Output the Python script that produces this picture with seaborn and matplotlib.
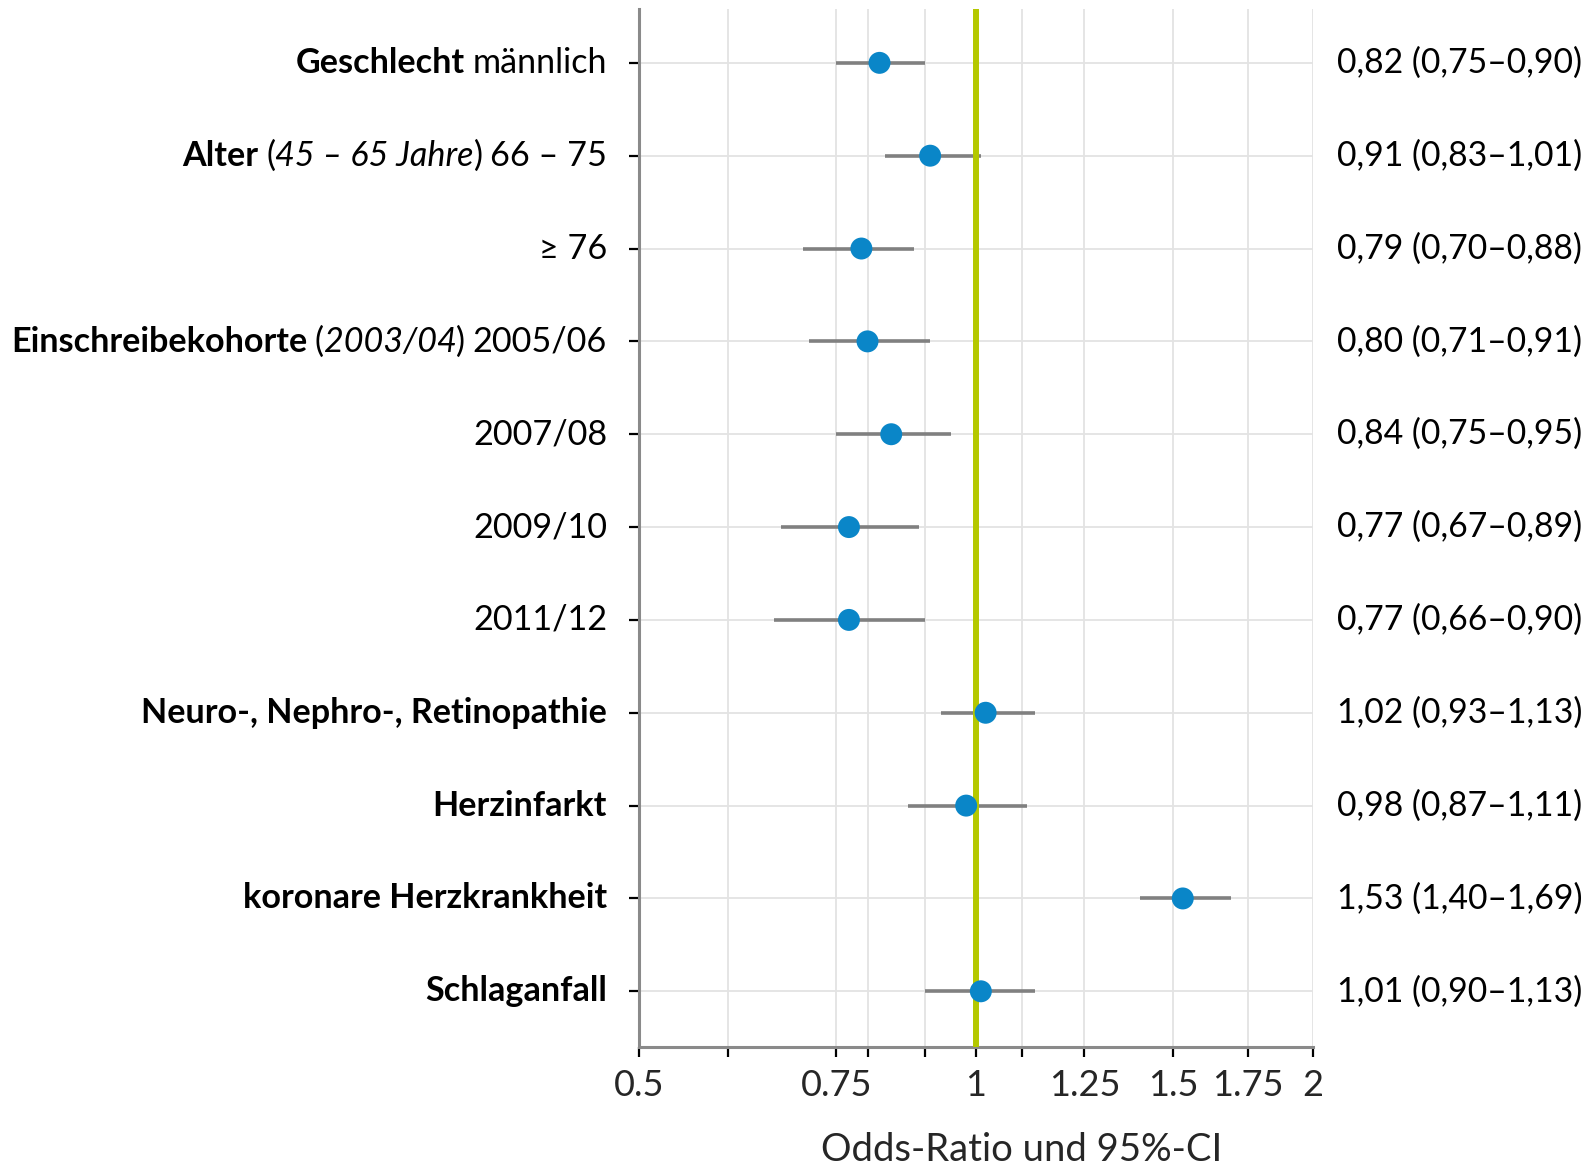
import numpy as np
import pandas as pd
import matplotlib
matplotlib.use("Agg")
import matplotlib.pyplot as plt
import seaborn as sns
from matplotlib.offsetbox import TextArea, HPacker, AnnotationBbox, DrawingArea
from matplotlib.ticker import FixedLocator, FixedFormatter, NullFormatter

# ---------------- data ----------------
# each row label: list of (text, style) pieces; style: b=bold, i=italic, n=normal, " "=space
row_labels = [
    [("Geschlecht", "b"), (" ", " "), ("männlich", "n")],
    [("Alter", "b"), (" ", " "), ("(", "n"), ("45 – 65 Jahre", "i"), (")", "n"), (" ", " "), ("66 – 75", "n")],
    [("≥ 76", "n")],
    [("Einschreibekohorte", "b"), (" ", " "), ("(", "n"), ("2003/04", "i"), (")", "n"), (" ", " "), ("2005/06", "n")],
    [("2007/08", "n")],
    [("2009/10", "n")],
    [("2011/12", "n")],
    [("Neuro-, Nephro-, Retinopathie", "b")],
    [("Herzinfarkt", "b")],
    [("koronare Herzkrankheit", "b")],
    [("Schlaganfall", "b")],
]
odds = [0.82, 0.91, 0.79, 0.80, 0.84, 0.77, 0.77, 1.02, 0.98, 1.53, 1.01]
ci_low = [0.75, 0.83, 0.70, 0.71, 0.75, 0.67, 0.66, 0.93, 0.87, 1.40, 0.90]
ci_high = [0.90, 1.01, 0.88, 0.91, 0.95, 0.89, 0.90, 1.13, 1.11, 1.69, 1.13]

x_major_ticks = [0.5, 0.75, 1, 1.25, 1.5, 1.75, 2]
x_major_labels = ["0.5", "0.75", "1", "1.25", "1.5", "1.75", "2"]
x_minor_ticks = [0.6, 0.8, 0.9, 1.1]
x_label = "Odds-Ratio und 95%-CI"
reference_value = 1

# ---------------- style ----------------
sns.set_theme(style="white")
plt.rcParams["font.family"] = ["Lato", "DejaVu Sans"]
FS_TICK = 26
FS_LEFT = 24.6
FS_RIGHT = 24.3
FS_XLABEL = 27.5
GRID = "#e3e3e3"
SPINE = "#8a8a8a"
DOT = "#0a86c8"
BAR = "#808080"
GREEN = "#b4c800"

df = pd.DataFrame({
    "row": np.arange(len(odds)),
    "odds": odds,
    "lo": ci_low,
    "hi": ci_high,
})

W, H = 1593, 1167
fig = plt.figure(figsize=(W / 100, H / 100), dpi=100)
ax = fig.add_axes([639 / W, 1 - 1047 / H, 674 / W, (1047 - 9) / H])

ax.set_xscale("log")
ax.set_xlim(0.5, 2)
ax.set_ylim(len(odds) - 1 + 0.6, -0.58)

ax.xaxis.set_major_locator(FixedLocator(x_major_ticks))
ax.xaxis.set_major_formatter(FixedFormatter(x_major_labels))
ax.xaxis.set_minor_locator(FixedLocator(x_minor_ticks))
ax.xaxis.set_minor_formatter(NullFormatter())
ax.set_yticks(df["row"])
ax.set_yticklabels([])

ax.grid(True, which="both", axis="x", color=GRID, lw=1.3)
ax.grid(True, which="major", axis="y", color=GRID, lw=1.3)
ax.set_axisbelow(True)

for s in ["top", "right"]:
    ax.spines[s].set_visible(False)
for s in ["left", "bottom"]:
    ax.spines[s].set_color(SPINE)
    ax.spines[s].set_linewidth(2.2)

ax.tick_params(axis="both", which="both", bottom=True, left=True, direction="out",
               length=7.5, width=1.6, color="black", labelsize=FS_TICK, pad=8)
ax.tick_params(axis="y", which="both", pad=0)

# CI bars, reference line, points
ax.hlines(df["row"], df["lo"], df["hi"], color=BAR, lw=2.6, zorder=3)
ax.axvline(reference_value, color=GREEN, lw=4.3, zorder=4)
sns.scatterplot(data=df, x="odds", y="row", s=250, color=DOT, edgecolor="none",
                zorder=5, ax=ax, legend=False)
ax.set_ylabel("")
ax.set_xlabel(x_label, fontsize=FS_XLABEL, labelpad=22, x=0.567)

# rich y labels
style_props = {
    "b": dict(fontweight="bold"),
    "i": dict(fontstyle="italic"),
    "n": dict(),
}
for r, parts in enumerate(row_labels):
    children = []
    for txt, st in parts:
        if st == " ":
            children.append(DrawingArea(0.22 * FS_LEFT, 1))
        else:
            props = dict(fontsize=FS_LEFT, color="black", **style_props[st])
            children.append(TextArea(txt, textprops=props))
    box = HPacker(children=children, align="baseline", pad=0, sep=0)
    ab = AnnotationBbox(box, xy=(0, r), xycoords=("axes fraction", "data"),
                        xybox=(-23, 0), boxcoords="offset points",
                        box_alignment=(1, 0.5), frameon=False, pad=0,
                        annotation_clip=False)
    ax.add_artist(ab)

# right-hand value labels
def fmt(v):
    return f"{v:.2f}".replace(".", ",")

for r, (o, lo, hi) in enumerate(zip(odds, ci_low, ci_high)):
    ax.annotate(f"{fmt(o)} ({fmt(lo)}–{fmt(hi)})", xy=(1, r),
                xycoords=("axes fraction", "data"), xytext=(17, 0),
                textcoords="offset points", ha="left", va="center",
                fontsize=FS_RIGHT, color="black", annotation_clip=False)

fig.savefig("out.png", dpi=100)
